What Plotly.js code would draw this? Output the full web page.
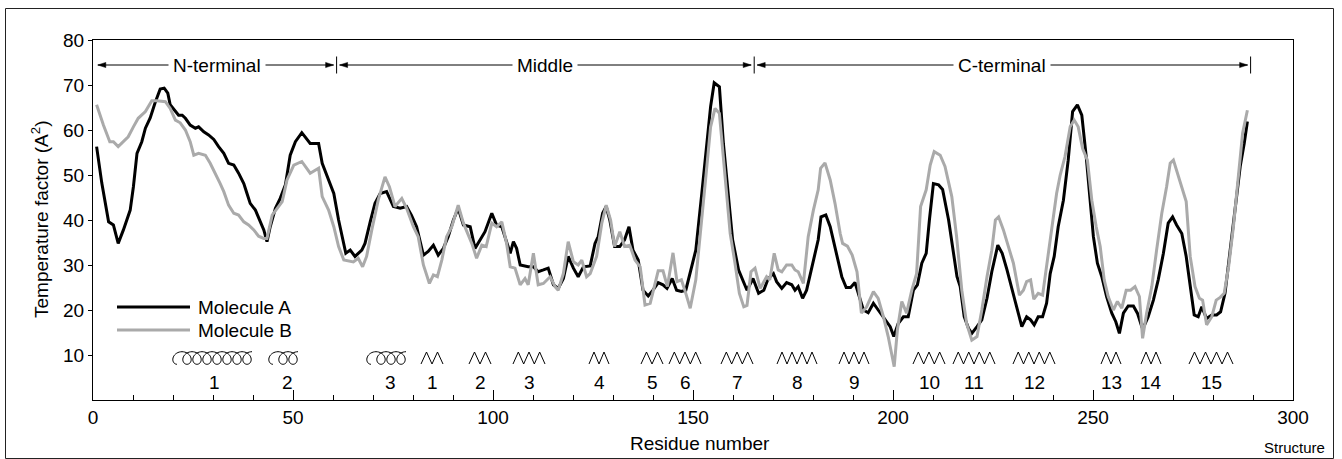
<!DOCTYPE html>
<html>
<head>
<meta charset="utf-8">
<script src="https://cdn.plot.ly/plotly-3.0.1.min.js"></script>
<style>
  html, body { margin: 0; padding: 0; background: #ffffff; }
  #chart { width: 1342px; height: 459px; }
</style>
</head>
<body>
<div id="chart"></div>
<script>
// ---------------- DATA ----------------
const seriesNames = ["Molecule A", "Molecule B"];

const residueA = [
  0.9,2.2,3.9,5.1,6.3,7.6,9.3,10.1,11.0,12.2,
  13.1,14.3,15.5,16.8,17.8,18.7,19.3,20.6,21.4,22.3,
  23.1,24.3,25.6,26.4,27.7,28.9,30.2,31.4,32.7,33.9,
  35.2,36.4,37.7,38.5,39.3,40.6,41.8,42.7,43.5,44.3,
  45.6,46.8,48.1,49.3,50.6,52.2,54.3,56.4,57.3,58.9,
  60.2,61.4,62.7,63.2,
  64.3,65.5,67.2,68.0,69.3,70.5,71.8,73.4,75.1,76.8,
  78.4,79.6,80.9,82.6,83.8,85.1,86.3,87.6,88.8,90.1,
  91.3,92.6,94.3,95.5,96.8,98.0,99.7,100.9,102.2,103.4,
  104.3,105.1,105.9,106.8,108.8,110.1,111.3,112.6,113.8,115.1,
  116.3,117.6,118.8,120.1,121.3,122.6,124.3,125.5,126.3,127.4,
  128.3,129.2,130.4,131.7,132.9,134.0,135.0,136.3,137.5,138.8,
  140.0,141.3,142.5,143.5,144.8,145.9,147.1,148.2,149.2,150.7,
  152.2,153.4,154.4,155.3,156.6,157.6,158.9,159.9,161.4,162.7,
  163.5,165.0,166.4,167.7,168.8,170.1,170.9,172.2,173.4,174.7,
  175.5,176.3,177.4,178.4,179.7,181.3,182.0,183.2,184.3,185.5,
  187.2,188.3,189.4,190.5,191.8,192.6,193.8,195.1,196.3,198.0,
  199.3,200.2,201.3,202.6,203.8,205.1,206.1,207.2,208.3,209.1,
  210.1,211.4,212.4,213.9,215.1,216.0,216.8,217.8,218.9,219.7,
  221.0,222.2,223.5,224.7,226.2,227.3,228.5,230.1,231.3,232.2,
  233.4,234.4,235.3,236.3,237.4,238.4,239.3,240.3,241.3,242.6,
  243.8,244.9,246.1,247.2,248.3,249.3,250.1,251.1,252.2,253.4,
  254.7,255.7,256.6,257.6,258.8,260.1,261.1,262.2,262.7,263.8,
  265.1,266.3,267.6,268.8,269.9,270.9,272.2,273.3,274.3,275.3,
  276.3,277.2,278.4,279.7,280.9,281.9,283.0,284.3,285.5,286.8,
  287.8,288.6
];
const tempA = [
  56.3,48.2,39.6,38.9,34.8,37.8,42.2,47.4,54.8,57.4,
  60.4,62.7,66.0,69.1,69.3,68.2,65.6,64.1,63.3,63.3,
  62.6,61.1,60.4,60.7,59.6,58.9,57.9,56.3,54.8,52.6,
  52.2,50.4,48.1,45.9,43.7,42.2,39.6,37.8,35.2,38.5,
  42.6,44.8,47.8,54.4,57.4,59.4,57.0,57.0,52.6,48.9,
  45.9,40.0,34.1,32.6,
  33.3,31.9,33.3,34.8,39.6,43.7,45.9,46.3,43.0,42.6,
  43.0,41.1,38.5,32.2,33.0,34.4,32.2,33.7,36.3,40.0,
  42.6,38.9,38.5,33.7,35.6,37.4,41.5,38.9,38.5,35.2,
  32.6,35.2,33.7,30.0,29.6,29.6,28.5,28.9,29.3,25.6,
  24.8,27.0,31.9,29.3,27.4,29.6,29.8,34.8,36.3,41.5,
  43.0,40.0,34.1,34.1,35.6,38.5,33.3,31.1,24.4,23.1,
  24.4,26.1,25.6,24.8,27.0,24.4,24.1,24.4,28.1,33.3,
  45.9,57.0,65.2,70.5,69.6,57.0,44.4,35.6,28.9,25.9,
  24.4,27.0,23.7,24.4,27.0,28.1,26.3,24.8,26.1,25.6,
  24.4,25.2,22.6,24.4,29.6,35.6,40.7,41.1,38.5,34.1,
  27.4,25.0,25.0,26.1,22.6,20.0,19.4,21.5,20.0,17.8,
  16.3,14.1,17.0,18.5,18.5,24.4,25.6,30.4,32.6,40.0,
  48.1,47.8,46.8,40.0,33.3,27.4,25.2,18.5,15.9,14.8,
  16.3,17.8,22.6,28.5,34.4,32.6,28.9,23.7,19.3,16.3,
  18.5,17.8,16.7,18.5,18.5,21.5,28.1,31.9,38.5,44.4,
  53.3,64.1,65.6,63.3,54.1,43.7,36.3,30.4,27.4,23.0,
  19.3,17.4,14.8,19.3,20.9,20.9,19.3,16.3,16.3,18.5,
  22.2,26.7,32.6,39.3,40.7,38.9,37.0,31.9,25.2,18.9,
  18.5,20.7,18.1,18.9,18.9,19.6,23.7,33.3,43.0,51.9,
  57.0,61.9
];

const residueB = [
  0.9,2.6,4.2,5.1,6.3,7.6,8.8,10.1,11.3,13.1,
  14.7,16.0,18.1,19.3,20.6,21.8,23.1,24.3,25.2,26.4,
  28.1,29.3,30.6,31.8,32.7,33.9,35.2,36.4,37.7,38.9,
  40.2,41.4,42.7,43.5,44.8,46.0,47.3,48.5,50.2,52.2,
  54.3,56.4,57.3,58.9,60.2,61.4,62.7,65.1,66.3,67.4,
  68.4,69.7,71.3,73.0,74.1,75.5,77.2,78.4,80.1,81.3,
  82.6,84.1,85.1,86.1,87.2,88.4,89.7,91.3,92.6,94.7,
  95.9,97.2,98.3,99.7,100.9,102.2,103.4,104.3,105.5,106.8,
  108.0,108.8,110.1,111.3,112.6,114.3,115.5,116.3,117.6,118.8,
  120.1,121.3,122.2,123.4,124.3,125.9,127.2,128.3,129.4,130.4,
  131.7,132.9,134.2,135.5,136.8,138.0,139.3,141.3,142.5,143.6,
  145.0,146.0,147.1,148.2,149.3,150.7,151.9,153.3,154.4,155.5,
  156.6,157.6,159.3,160.5,161.6,162.7,163.5,164.5,165.5,166.8,
  168.4,169.2,170.3,171.3,172.2,173.4,174.7,175.5,176.3,177.6,
  178.8,180.1,181.3,181.9,183.0,184.3,185.5,186.8,187.4,188.6,
  189.8,191.0,192.1,193.4,195.1,196.3,197.6,198.8,199.7,200.3,
  201.1,202.2,203.4,204.7,205.9,206.9,208.3,209.3,210.3,211.8,
  213.0,214.7,215.9,217.2,218.4,219.7,221.0,222.2,223.5,224.7,
  225.6,226.4,227.6,229.3,230.1,231.6,232.6,233.4,234.4,235.2,
  236.3,237.4,238.4,239.7,240.9,241.8,243.0,244.3,245.3,246.3,
  247.4,248.6,249.7,250.8,251.8,252.8,253.8,255.1,256.1,257.2,
  258.3,259.4,260.5,261.6,262.4,263.4,264.7,265.9,267.2,268.4,
  269.3,270.1,271.1,272.2,273.3,274.3,275.5,276.6,277.4,278.4,
  279.7,280.8,281.8,282.8,283.9,285.1,286.4,287.4,288.6
];
const tempB = [
  65.6,61.1,57.4,57.4,56.3,57.4,58.5,60.7,62.6,64.1,
  66.5,66.5,66.3,64.8,62.2,61.6,60.0,57.4,54.4,54.8,
  54.4,52.6,50.4,48.1,46.3,43.3,41.5,41.1,39.6,38.9,
  37.8,36.4,35.9,35.9,41.1,42.6,44.1,48.9,52.2,53.0,
  50.4,51.5,45.2,42.2,38.5,34.1,31.1,30.7,31.5,29.6,
  31.9,37.8,44.4,49.6,47.4,43.0,44.8,42.6,38.5,36.3,
  30.0,25.9,27.8,27.4,31.1,36.3,38.5,43.3,39.3,34.8,
  31.5,34.4,34.1,39.3,38.5,39.6,34.8,29.6,29.3,25.6,
  27.0,25.6,32.6,25.6,25.9,27.4,25.2,24.4,28.1,35.2,
  30.7,30.0,31.1,27.4,28.1,31.9,39.3,43.3,40.0,34.1,
  37.4,34.1,34.4,31.1,29.6,21.1,21.5,28.7,28.7,25.2,
  32.7,26.3,26.7,23.7,20.4,26.7,37.0,50.4,60.7,64.8,
  63.7,53.3,37.0,30.4,23.7,20.7,21.0,28.5,29.3,24.8,
  27.4,26.7,32.6,28.9,28.5,30.0,30.0,28.9,28.5,25.9,
  36.3,42.2,46.7,51.5,52.7,48.9,43.7,37.0,34.8,34.2,
  32.2,28.5,19.3,20.7,24.1,22.6,18.5,14.1,10.4,7.4,
  15.6,21.9,19.3,24.4,28.1,43.0,46.7,52.2,55.2,54.4,
  51.9,45.2,36.3,24.4,17.0,13.3,14.1,20.0,27.4,33.3,
  40.0,40.7,37.8,32.6,30.4,23.3,24.4,26.3,26.7,22.4,
  23.7,23.3,29.6,38.5,45.9,50.0,54.1,60.7,62.2,60.7,
  55.9,53.3,44.4,38.5,34.1,26.7,23.0,20.0,21.9,20.4,
  24.4,24.4,25.2,23.0,13.7,19.3,25.2,33.3,41.5,47.4,
  52.6,53.3,50.4,47.4,44.1,31.9,25.2,22.6,22.2,16.7,
  18.5,22.2,22.8,23.7,29.6,38.5,51.1,59.3,64.4
];

// Domain sections (residue ranges)
const sectionNames = ["N-terminal", "Middle", "C-terminal"];
const sectionStart = [1.2, 60.9, 165.3];
const sectionEnd   = [60.9, 165.3, 289.4];

// Secondary structure: helices (coils) and strands (zigzags)
const helixLabels = ["1", "2", "3"];
const helixStart  = [20.0, 44.0, 68.5];
const helixEnd    = [40.5, 53.0, 80.0];

const strandLabels = ["1","2","3","4","5","6","7","8","9","10","11","12","13","14","15"];
const strandStart  = [82.0, 94.0, 105.0, 124.0, 137.0, 144.0, 157.0, 171.0, 186.5, 205.0, 215.0, 230.0, 252.0, 262.0, 274.0];
const strandEnd    = [87.5, 99.5, 113.0, 129.0, 142.5, 152.0, 165.0, 181.0, 194.0, 213.0, 225.5, 240.5, 257.0, 267.0, 285.0];

const xTickVals = [0, 50, 100, 150, 200, 250, 300];
const yTickVals = [10, 20, 30, 40, 50, 60, 70, 80];

// ---------------- LAYOUT GEOMETRY ----------------
const W = 1342, H = 459;
const M = { l: 93, r: 49, t: 40, b: 59 };
const X_RANGE = [0, 300], Y_RANGE = [0, 80];
const plotW = W - M.l - M.r, plotH = H - M.t - M.b;
const sx = plotW / (X_RANGE[1] - X_RANGE[0]);   // px per residue
const sy = plotH / (Y_RANGE[1] - Y_RANGE[0]);   // px per unit
const px2dx = p => p / sx;
const px2dy = p => p / sy;
const pxX = p => (p - M.l) / plotW;
const pxY = p => (M.t + plotH - p) / plotH;

const FONT = "Liberation Sans, Arial, Helvetica, sans-serif";
const shapes = [];
const annotations = [];

// outer figure border
shapes.push({ type: "rect", xref: "paper", yref: "paper",
  x0: pxX(5.5), x1: pxX(1333.5), y0: pxY(458.5), y1: pxY(8.5),
  line: { color: "#222", width: 1 }, fillcolor: "rgba(0,0,0,0)" });

// ---- sections with arrows ----
const secY = px2dy(400 - 65);
const arrowLen = px2dx(8), arrowHalf = px2dy(2.6);
const barHalf = px2dy(8.5);
function tri(tipX, dir) {
  const bx = tipX - dir * arrowLen;
  return `M ${tipX} ${secY} L ${bx} ${secY + arrowHalf} L ${bx} ${secY - arrowHalf} Z`;
}
sectionNames.forEach((name, i) => {
  const s = sectionStart[i], e = sectionEnd[i];
  const gap = i === 0 ? 0 : px2dx(3);
  const s2 = s + gap, e2 = e - px2dx(3);
  shapes.push({ type: "line", xref: "x", yref: "y", x0: s2, x1: e2, y0: secY, y1: secY,
    line: { color: "#000", width: 1 } });
  shapes.push({ type: "path", xref: "x", yref: "y", path: tri(s2, -1), fillcolor: "#000", line: { color: "#000", width: 0.5 } });
  shapes.push({ type: "path", xref: "x", yref: "y", path: tri(e2, 1), fillcolor: "#000", line: { color: "#000", width: 0.5 } });
  shapes.push({ type: "line", xref: "x", yref: "y", x0: e, x1: e, y0: secY - barHalf, y1: secY + barHalf,
    line: { color: "#000", width: 1 } });
  annotations.push({ xref: "x", yref: "y", x: (s + e) / 2, y: secY, text: name, showarrow: false,
    xanchor: "center", yanchor: "middle", bgcolor: "#ffffff", borderpad: 4,
    font: { family: FONT, size: 19, color: "#000" } });
});

// ---- helices (coil symbols) ----
const helixYc = px2dy(400 - 358);
function helixPath(x0, x1) {
  const wPx = (x1 - x0) * sx;
  const R = 6.5, Hh = 6.3, P = 10;
  const lead = 0.25 * P + R;
  const n = Math.max(1, Math.round((wPx - lead - R) / P));
  const xs = x0 * sx + lead;
  const pts = [];
  const t0 = -1.0 * Math.PI, t1 = 2 * Math.PI * n;
  const steps = Math.ceil((t1 - t0) / (Math.PI / 18));
  for (let k = 0; k <= steps; k++) {
    const t = t0 + (t1 - t0) * k / steps;
    const xp = xs + P * t / (2 * Math.PI) + R * Math.sin(t);
    const yp = Hh * Math.cos(t);
    pts.push([xp / sx, helixYc + yp / sy]);
  }
  return "M " + pts.map(p => p[0].toFixed(3) + " " + p[1].toFixed(3)).join(" L ");
}
helixLabels.forEach((lab, i) => {
  shapes.push({ type: "path", xref: "x", yref: "y", path: helixPath(helixStart[i], helixEnd[i]),
    line: { color: "#000", width: 1 } });
  annotations.push({ xref: "x", yref: "y", x: (helixStart[i] + helixEnd[i]) / 2, y: px2dy(400 - 382),
    text: lab, showarrow: false, xanchor: "center", yanchor: "middle",
    font: { family: FONT, size: 19, color: "#000" } });
});

// ---- strands (zigzag symbols) ----
const zzTop = px2dy(400 - 352), zzBot = px2dy(400 - 364);
function zigzag(x0, x1) {
  const n = Math.max(1, Math.round((x1 - x0) / 2.6));
  const pts = [];
  for (let k = 0; k <= 2 * n; k++) {
    pts.push([x0 + (x1 - x0) * k / (2 * n), k % 2 === 0 ? zzBot : zzTop]);
  }
  return "M " + pts.map(p => p[0].toFixed(3) + " " + p[1].toFixed(3)).join(" L ");
}
strandLabels.forEach((lab, i) => {
  shapes.push({ type: "path", xref: "x", yref: "y", path: zigzag(strandStart[i], strandEnd[i]),
    line: { color: "#000", width: 1 } });
  annotations.push({ xref: "x", yref: "y", x: (strandStart[i] + strandEnd[i]) / 2, y: px2dy(400 - 382),
    text: lab, showarrow: false, xanchor: "center", yanchor: "middle",
    font: { family: FONT, size: 19, color: "#000" } });
});

// ---- legend (drawn manually to match long line samples) ----
const legendColors = ["#000000", "#aaaaaa"];
const legendYpx = [307, 330];
seriesNames.forEach((nm, i) => {
  shapes.push({ type: "line", xref: "paper", yref: "paper",
    x0: pxX(117), x1: pxX(190), y0: pxY(legendYpx[i]), y1: pxY(legendYpx[i]),
    line: { color: legendColors[i], width: 3 } });
  annotations.push({ xref: "paper", yref: "paper", x: pxX(196), y: pxY(legendYpx[i]), text: nm,
    showarrow: false, xanchor: "left", yanchor: "middle",
    font: { family: FONT, size: 19, color: "#000" } });
});

// ---- axis titles & note ----
annotations.push({ xref: "paper", yref: "paper", x: pxX(40), y: 0.5, text: "Temperature factor (A<sup>2</sup>)",
  textangle: -90, showarrow: false, xanchor: "center", yanchor: "middle",
  font: { family: FONT, size: 19, color: "#000" } });
annotations.push({ xref: "paper", yref: "paper", x: pxX(700), y: pxY(443), text: "Residue number",
  showarrow: false, xanchor: "center", yanchor: "middle",
  font: { family: FONT, size: 19, color: "#000" } });
annotations.push({ xref: "paper", yref: "paper", x: pxX(1327), y: pxY(447), text: "Structure",
  showarrow: false, xanchor: "right", yanchor: "middle",
  font: { family: FONT, size: 15, color: "#000" } });

// ---------------- TRACES ----------------
const traces = [
  { x: residueA, y: tempA, type: "scatter", mode: "lines", name: seriesNames[0],
    line: { color: legendColors[0], width: 3 }, hoverinfo: "skip" },
  { x: residueB, y: tempB, type: "scatter", mode: "lines", name: seriesNames[1],
    line: { color: legendColors[1], width: 3 }, hoverinfo: "skip" }
];

const layout = {
  width: W, height: H,
  margin: M,
  paper_bgcolor: "#ffffff", plot_bgcolor: "#ffffff",
  showlegend: false,
  font: { family: FONT, size: 19, color: "#000" },
  xaxis: {
    range: X_RANGE, tickvals: xTickVals, ticktext: xTickVals.map(String),
    ticks: "inside", ticklen: 10, tickwidth: 1, tickcolor: "#000",
    minor: { dtick: 10, ticks: "inside", ticklen: 5, tickwidth: 1, tickcolor: "#000", showgrid: false },
    showline: true, linecolor: "#000", linewidth: 1, mirror: true,
    showgrid: false, zeroline: false,
    tickfont: { family: FONT, size: 19, color: "#000" }
  },
  yaxis: {
    range: Y_RANGE, tickvals: yTickVals, ticktext: yTickVals.map(String),
    ticks: "outside", ticklen: 4, tickwidth: 1, tickcolor: "#000",
    showline: true, linecolor: "#000", linewidth: 1, mirror: true,
    showgrid: false, zeroline: false,
    tickfont: { family: FONT, size: 19, color: "#000" }
  },
  shapes: shapes,
  annotations: annotations
};

Plotly.newPlot("chart", traces, layout, { displayModeBar: false, staticPlot: true });
</script>
</body>
</html>
